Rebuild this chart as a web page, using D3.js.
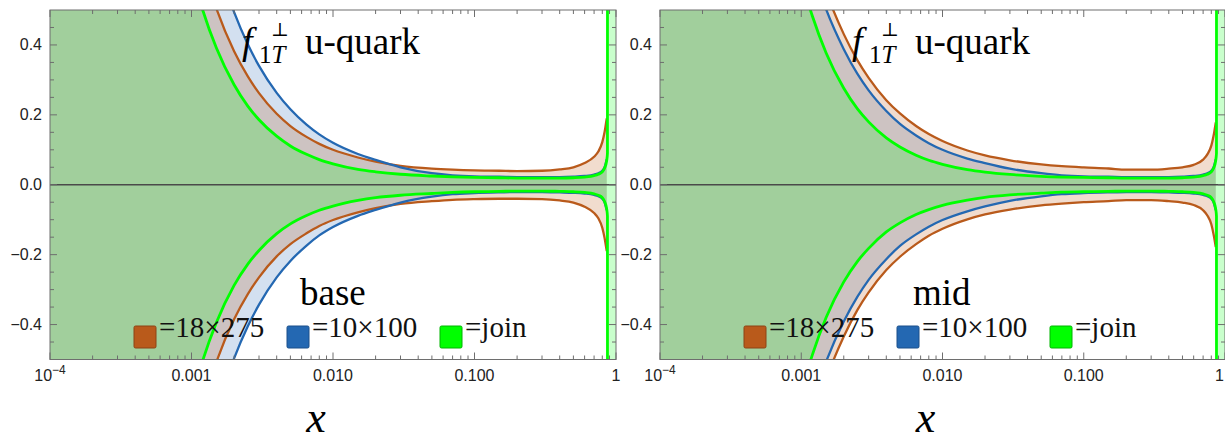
<!DOCTYPE html>
<html><head><meta charset="utf-8">
<script src="https://cdn.jsdelivr.net/npm/d3@7"></script>
<style>body{margin:0;background:#fff}svg{display:block}</style>
</head><body>
<svg id="c" width="1225" height="443"></svg>
<script>
// ---- data ----
const xs = [0.0001,0.0005,0.0008,0.001,0.0012,0.0015,0.002,0.0025,0.003,0.004,0.005,0.0065,0.008,0.01,0.015,0.02,0.03,0.05,0.07,0.1,0.15,0.2,0.3,0.4,0.5,0.6,0.7,0.75,0.8,0.83,0.86,0.87,0.875,1.0];

const baseJoinUp = [8.4,1.34,0.787,0.612,0.50,0.391,0.286,0.225,0.186,0.139,0.111,0.087,0.072,0.060,0.044,0.037,0.030,0.025,0.0225,0.021,0.020,0.019,0.019,0.019,0.020,0.022,0.026,0.030,0.037,0.047,0.07,0.09,5,5];
const baseJoinLo = [-8.4,-1.35,-0.79,-0.615,-0.503,-0.394,-0.288,-0.227,-0.188,-0.14,-0.112,-0.088,-0.073,-0.061,-0.045,-0.037,-0.030,-0.025,-0.022,-0.020,-0.019,-0.018,-0.018,-0.019,-0.020,-0.022,-0.026,-0.030,-0.037,-0.048,-0.07,-0.09,-5,-5];
const base18Up = [8.1,1.52,0.943,0.753,0.628,0.504,0.382,0.310,0.262,0.203,0.168,0.137,0.117,0.100,0.078,0.066,0.054,0.046,0.043,0.041,0.040,0.039,0.040,0.044,0.050,0.062,0.080,0.095,0.122,0.150,0.19,null,null,null];
const base18Lo = [-8.1,-1.53,-0.95,-0.758,-0.632,-0.507,-0.385,-0.313,-0.265,-0.205,-0.17,-0.139,-0.118,-0.101,-0.079,-0.067,-0.055,-0.047,-0.043,-0.041,-0.040,-0.040,-0.041,-0.045,-0.051,-0.063,-0.081,-0.096,-0.123,-0.152,-0.19,null,null,null];
const base10Up = [8.7,1.84,1.17,0.95,0.80,0.646,0.494,0.402,0.340,0.263,0.216,0.172,0.144,0.120,0.088,0.071,0.050,0.033,0.027,0.024,0.023,0.022,0.022,0.022,0.023,0.025,0.029,0.033,0.040,0.050,0.073,null,null,null];
const base10Lo = [-8.7,-1.85,-1.18,-0.955,-0.805,-0.65,-0.497,-0.405,-0.343,-0.265,-0.218,-0.174,-0.145,-0.121,-0.089,-0.072,-0.051,-0.034,-0.027,-0.024,-0.022,-0.021,-0.021,-0.022,-0.023,-0.025,-0.029,-0.033,-0.040,-0.050,-0.073,null,null,null];

const midJoinUp = [8.1,1.288,0.758,0.589,0.482,0.377,0.276,0.217,0.180,0.134,0.108,0.0845,0.070,0.0585,0.0434,0.0363,0.0294,0.024,0.022,0.021,0.020,0.019,0.019,0.019,0.020,0.022,0.026,0.030,0.037,0.047,0.07,0.09,5,5];
const midJoinLo = [-8.1,-1.3,-0.765,-0.594,-0.486,-0.38,-0.278,-0.219,-0.182,-0.135,-0.109,-0.085,-0.071,-0.059,-0.044,-0.036,-0.029,-0.024,-0.021,-0.020,-0.019,-0.018,-0.018,-0.019,-0.020,-0.022,-0.026,-0.030,-0.037,-0.048,-0.07,-0.09,-5,-5];
const mid10Up = [6.3,1.39,0.896,0.729,0.616,0.502,0.388,0.317,0.270,0.211,0.174,0.141,0.119,0.100,0.075,0.062,0.046,0.033,0.027,0.024,0.023,0.022,0.022,0.022,0.023,0.025,0.029,0.033,0.040,0.050,0.073,null,null,null];
const mid10Lo = [-6.3,-1.4,-0.9,-0.735,-0.62,-0.506,-0.391,-0.32,-0.272,-0.213,-0.175,-0.142,-0.12,-0.101,-0.076,-0.062,-0.046,-0.033,-0.027,-0.024,-0.022,-0.021,-0.021,-0.022,-0.023,-0.025,-0.029,-0.033,-0.040,-0.050,-0.073,null,null,null];
const mid18Up = [6.8,1.50,0.974,0.795,0.675,0.553,0.431,0.356,0.306,0.242,0.204,0.168,0.145,0.125,0.098,0.084,0.070,0.058,0.053,0.0495,0.0465,0.043,0.043,0.046,0.050,0.057,0.072,0.087,0.112,0.140,0.178,null,null,null];
const mid18Lo = [-6.8,-1.51,-0.98,-0.8,-0.68,-0.557,-0.434,-0.358,-0.308,-0.244,-0.206,-0.17,-0.146,-0.126,-0.099,-0.085,-0.071,-0.059,-0.054,-0.050,-0.047,-0.044,-0.044,-0.047,-0.051,-0.058,-0.073,-0.088,-0.113,-0.142,-0.178,null,null,null];

const seriesNames = ["=18×275", "=10×100", "=join"];
const panelNames = ["base", "mid"];
const xTickVals = [1e-4, 1e-3, 1e-2, 1e-1, 1];
const xTickLabels = ["10|−4", "0.001", "0.010", "0.100", "1"];
const yTickVals = [-0.4, -0.2, 0, 0.2, 0.4];
const yTickLabels = ["−0.4", "−0.2", "0.0", "0.2", "0.4"];

// ---- styling ----
const colors = {o: "#b95a1b", b: "#2468b2", g: "#00ff00"};
const fills = {o: "rgba(185,80,10,0.2)", b: "rgba(35,100,180,0.2)", g: "rgba(0,255,15,0.21)"};
const TOP = 10, BOTTOM = 359.5;
const panels = [
  {left: 50, right: 616, name: panelNames[0], sets: {o:[base18Lo, base18Up], b:[base10Lo, base10Up], g:[baseJoinLo, baseJoinUp]}},
  {left: 660, right: 1225, name: panelNames[1], sets: {o:[mid18Lo, mid18Up], b:[mid10Lo, mid10Up], g:[midJoinLo, midJoinUp]}}
];

const svg = d3.select("#c");
const defs = svg.append("defs");
const serif = "'Liberation Serif','Times New Roman',serif";
const sans = "'Liberation Sans',Arial,sans-serif";

panels.forEach((p, i) => {
  const x = d3.scaleLog().domain([1e-4, 1]).range([p.left, p.right]);
  const y = d3.scaleLinear().domain([-0.5, 0.5]).range([BOTTOM, TOP]);
  defs.append("clipPath").attr("id", "clip" + i).append("rect")
    .attr("x", p.left).attr("y", TOP).attr("width", p.right - p.left).attr("height", BOTTOM - TOP);
  const g = svg.append("g");
  const plot = g.append("g").attr("clip-path", `url(#clip${i})`);

  const mk = key => xs.map((xv, k) => ({x: xv, lo: p.sets[key][0][k], hi: p.sets[key][1][k]})).filter(d => d.hi != null);
  const area = d3.area().x(d => x(d.x)).y0(d => y(d.lo)).y1(d => y(d.hi)).curve(d3.curveMonotoneX);
  ["b", "o", "g"].forEach(k => {
    plot.append("path").attr("d", area(mk(k))).attr("fill", fills[k]).attr("stroke", "none");
  });
  plot.append("line").attr("x1", p.left).attr("x2", p.right).attr("y1", y(0)).attr("y2", y(0))
    .attr("stroke", "#4a4a4a").attr("stroke-width", 1.5);
  const lineHi = d3.line().x(d => x(d.x)).y(d => y(d.hi)).curve(d3.curveMonotoneX);
  const lineLo = d3.line().x(d => x(d.x)).y(d => y(d.lo)).curve(d3.curveMonotoneX);
  [["o", 2.3], ["b", 2.3], ["g", 2.8]].forEach(([k, w]) => {
    const d = mk(k);
    plot.append("path").attr("d", lineHi(d)).attr("fill", "none").attr("stroke", colors[k]).attr("stroke-width", w);
    plot.append("path").attr("d", lineLo(d)).attr("fill", "none").attr("stroke", colors[k]).attr("stroke-width", w);
  });

  g.append("rect").attr("x", p.left).attr("y", TOP).attr("width", p.right - p.left).attr("height", BOTTOM - TOP)
    .attr("fill", "none").attr("stroke", "#6e6e6e").attr("stroke-width", 1);
  const tk = g.append("g").attr("stroke", "#6e6e6e").attr("stroke-width", 1);
  x.ticks().forEach(v => {
    const major = xTickVals.some(m => Math.abs(Math.log10(v) - Math.log10(m)) < 1e-6);
    const L = major ? 7 : 4;
    const px = x(v);
    tk.append("line").attr("x1", px).attr("x2", px).attr("y1", BOTTOM).attr("y2", BOTTOM - L);
    tk.append("line").attr("x1", px).attr("x2", px).attr("y1", TOP).attr("y2", TOP + L);
  });
  d3.range(-0.45, 0.46, 0.05).forEach(v => {
    const major = yTickVals.some(m => Math.abs(m - v) < 1e-6);
    const L = major ? 7 : 4;
    const py = y(v);
    tk.append("line").attr("x1", p.left).attr("x2", p.left + L).attr("y1", py).attr("y2", py);
    tk.append("line").attr("x1", p.right).attr("x2", p.right - L).attr("y1", py).attr("y2", py);
  });
  xTickVals.forEach((v, k) => {
    const lab = xTickLabels[k];
    const px = x(v);
    const t = g.append("text").attr("x", px + 6 > 1225 ? 1224 : px).attr("y", 381)
      .attr("text-anchor", px + 6 > 1225 ? "end" : "middle")
      .attr("font-family", sans).attr("font-size", 16).attr("fill", "#222");
    if (lab.includes("|")) {
      const [b, e] = lab.split("|");
      t.append("tspan").text(b);
      t.append("tspan").attr("dy", -7).attr("font-size", 12).text(e);
    } else t.text(lab);
  });
  yTickVals.forEach((v, k) => {
    g.append("text").attr("x", p.left - 8).attr("y", y(v) + 5.5).attr("text-anchor", "end")
      .attr("font-family", sans).attr("font-size", 16).attr("fill", "#222").text(yTickLabels[k]);
  });

  const L0 = p.left;
  g.append("text").attr("x", L0 + 192).attr("y", 54).attr("font-family", serif).attr("font-size", 38)
    .attr("font-style", "italic").text("f");
  g.append("text").attr("x", L0 + 221).attr("y", 36).attr("font-family", "'DejaVu Serif',serif").attr("font-size", 19).text("⊥");
  const sub = g.append("text").attr("x", L0 + 209).attr("y", 63).attr("font-family", serif).attr("font-size", 25);
  sub.append("tspan").text("1");
  sub.append("tspan").attr("font-style", "italic").text("T");
  g.append("text").attr("x", L0 + 255).attr("y", 54).attr("font-family", serif).attr("font-size", 37).text("u-quark");

  g.append("text").attr("x", L0 + (i === 0 ? 250 : 253)).attr("y", 305).attr("font-family", serif)
    .attr("font-size", 37).text(p.name);

  const legX = [84, 237, 390];
  const keys = ["o", "b", "g"];
  const strokes = {o: "#8c4314", b: "#1b4f8a", g: "#00b400"};
  keys.forEach((k, j) => {
    g.append("rect").attr("x", L0 + legX[j]).attr("y", 326).attr("width", 22).attr("height", 22).attr("rx", 1.5)
      .attr("fill", colors[k]).attr("stroke", strokes[k]).attr("stroke-width", 1);
    g.append("text").attr("x", L0 + legX[j] + 25).attr("y", 337).attr("font-family", serif)
      .attr("font-size", 29).attr("fill", "#111").text(seriesNames[j]);
  });

  g.append("text").attr("x", (p.left + p.right) / 2 - 17).attr("y", 432).attr("text-anchor", "middle")
    .attr("font-family", serif).attr("font-style", "italic").attr("font-size", 44).text("x");
});
</script>
</body></html>
